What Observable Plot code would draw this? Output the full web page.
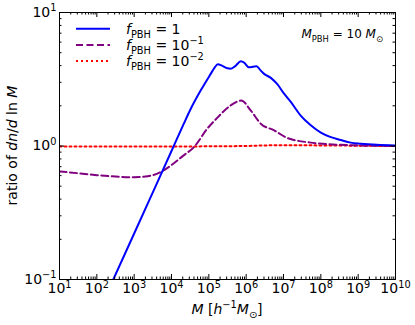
<!DOCTYPE html>
<html><head><meta charset="utf-8">
<script src="https://cdn.jsdelivr.net/npm/d3@7"></script>
<script src="https://cdn.jsdelivr.net/npm/@observablehq/plot@0.6"></script>
<style>body{margin:0;background:#fff} svg{overflow:visible}</style>
</head><body><div id="chart"></div>
<script>
// ---- data (log10 of M in h^-1 Msun, ratio of dn/dlnM) ----
const seriesNames = ["f1", "f01", "f001"];
const blueLogM  = [2.3, 3.0, 3.5, 4.0, 4.33, 4.5, 4.78, 5.05, 5.15, 5.24, 5.35, 5.5, 5.58, 5.7, 5.86, 5.95, 6.07, 6.18, 6.28, 6.38, 6.48, 6.66, 6.84, 7.0, 7.19, 7.46, 7.73, 8.0, 8.25, 8.53, 8.8, 9.07, 9.5, 10.0];
const blueRatio = [0.082, 0.221, 0.45, 0.917, 1.47, 1.86, 2.6, 3.47, 3.85, 4.10, 4.0, 3.82, 3.79, 3.95, 4.32, 4.2, 3.89, 3.92, 3.96, 3.7, 3.47, 3.24, 2.89, 2.5, 2.15, 1.69, 1.43, 1.26, 1.17, 1.11, 1.06, 1.04, 1.02, 1.01];
const purpleLogM  = [1.0, 1.5, 2.0, 2.5, 3.0, 3.3, 3.5, 3.75, 4.0, 4.3, 4.6, 4.96, 5.23, 5.58, 5.87, 6.12, 6.39, 6.75, 7.1, 7.73, 8.53, 9.0, 10.0];
const purpleRatio = [0.645, 0.625, 0.605, 0.59, 0.584, 0.59, 0.605, 0.647, 0.72, 0.84, 0.98, 1.35, 1.63, 2.01, 2.19, 1.85, 1.47, 1.31, 1.15, 1.06, 1.02, 1.01, 1.0];
const redLogM  = [1.0, 4.0, 5.0, 6.0, 6.5, 7.0, 8.0, 9.0, 10.0];
const redRatio = [0.99, 0.99, 0.995, 1.0, 1.01, 1.015, 1.01, 1.005, 1.0];
const xDecades = [1, 2, 3, 4, 5, 6, 7, 8, 9, 10];
const yDecades = [-1, 0, 1];

const toRows = (lm, r) => lm.map((v, i) => ({M: 10 ** v, ratio: r[i]}));
const blue = toRows(blueLogM, blueRatio);
const purple = toRows(purpleLogM, purpleRatio);
const red = toRows(redLogM, redRatio);

const xMajor = xDecades.map(d => 10 ** d);
const yMajor = yDecades.map(d => 10 ** d);
const xMinor = xDecades.slice(0, -1).flatMap(d => d3.range(2, 10).map(k => k * 10 ** d));
const yMinor = yDecades.slice(0, -1).flatMap(d => d3.range(2, 10).map(k => k * 10 ** d));

const W = 415, H = 325, mL = 59, mR = 20, mT = 12, mB = 46;
const innerH = H - mT - mB, innerW = W - mL - mR;
const majL = 5, minL = 2.5;

const chart = Plot.plot({
  width: W, height: H,
  marginLeft: mL, marginRight: mR, marginTop: mT, marginBottom: mB,
  style: {fontFamily: "DejaVu Sans", fontSize: "14px", color: "black", background: "white"},
  x: {type: "log", domain: [10, 1e10]},
  y: {type: "log", domain: [0.1, 10]},
  marks: [
    Plot.line(red, {x: "M", y: "ratio", stroke: "#ff0000", strokeWidth: 2, strokeDasharray: "2,3", curve: "monotone-x", clip: true}),
    Plot.line(purple, {x: "M", y: "ratio", stroke: "#800080", strokeWidth: 2, strokeDasharray: "7,3.5", curve: "monotone-x", clip: true}),
    Plot.line(blue, {x: "M", y: "ratio", stroke: "#0000ff", strokeWidth: 2, curve: "monotone-x", clip: true}),
    // inward ticks (bottom/top/left/right)
    Plot.tickX(xMajor, {x: d => d, insetTop: innerH - majL, stroke: "black"}),
    Plot.tickX(xMajor, {x: d => d, insetBottom: innerH - majL, stroke: "black"}),
    Plot.tickX(xMinor, {x: d => d, insetTop: innerH - minL, stroke: "black"}),
    Plot.tickX(xMinor, {x: d => d, insetBottom: innerH - minL, stroke: "black"}),
    Plot.tickY(yMajor, {y: d => d, insetRight: innerW - majL, stroke: "black"}),
    Plot.tickY(yMajor, {y: d => d, insetLeft: innerW - majL, stroke: "black"}),
    Plot.tickY(yMinor, {y: d => d, insetRight: innerW - minL, stroke: "black"}),
    Plot.tickY(yMinor, {y: d => d, insetLeft: innerW - minL, stroke: "black"}),
    Plot.axisX({ticks: xMajor, tickSize: 0, tickPadding: 4, label: null, tickFormat: d => String(Math.round(Math.log10(d)))}),
    Plot.axisY({ticks: yMajor, tickSize: 0, tickPadding: 3, label: null, tickFormat: d => String(Math.round(Math.log10(d)))}),
    Plot.frame({stroke: "black", strokeWidth: 1})
  ]
});
document.getElementById("chart").appendChild(chart);

const svg = d3.select(chart);
const minus = s => s.replace("-", "\u2212");

// rich text builder
function rich(sel, parts, size = 14) {
  let cur = 0;
  parts.forEach(p => {
    const target = p.sub ? size * 0.3 : p.sup ? -size * 0.42 : 0;
    const ts = sel.append("tspan").text(p.t);
    if (target !== cur) ts.attr("dy", target - cur);
    cur = target;
    if (p.sub || p.sup) ts.attr("font-size", size * 0.7);
    if (p.it) ts.attr("font-style", "italic");
  });
}

// tick labels 10^n
svg.selectAll('g[aria-label="x-axis tick label"] text, g[aria-label="y-axis tick label"] text').each(function() {
  const t = d3.select(this);
  const e = minus(t.text());
  t.text(null);
  rich(t, [{t: "10"}, {t: e, sup: true}]);
});

const g = svg.append("g").attr("font-family", "DejaVu Sans").attr("font-size", 14).attr("fill", "black");

// axis labels
const xl = g.append("text").attr("x", mL + innerW / 2).attr("y", 314).attr("text-anchor", "middle");
rich(xl, [{t: "M", it: true}, {t: " ["}, {t: "h", it: true}, {t: "\u22121", sup: true}, {t: "M", it: true}, {t: "\u2299", sub: true}, {t: "]"}]);
const yl = g.append("text").attr("transform", `translate(17,${mT + innerH / 2}) rotate(-90)`).attr("text-anchor", "middle");
rich(yl, [{t: "ratio of "}, {t: "dn", it: true}, {t: "/"}, {t: "d", it: true}, {t: " ln "}, {t: "M", it: true}]);

// legend
const legend = [
  {color: "#0000ff", dash: null, exp: null},
  {color: "#800080", dash: "7,3.5", exp: "\u22121"},
  {color: "#ff0000", dash: "2,3", exp: "\u22122"}
];
legend.forEach((d, i) => {
  const y = 28.7 + i * 16.2;
  g.append("line").attr("x1", 76).attr("x2", 110).attr("y1", y).attr("y2", y)
    .attr("stroke", d.color).attr("stroke-width", 2).attr("stroke-dasharray", d.dash);
  const t = g.append("text").attr("x", 126).attr("y", y + 5).attr("text-anchor", "start");
  const parts = [{t: "f", it: true}, {t: "PBH", sub: true}, {t: " = "}];
  if (d.exp) parts.push({t: "10"}, {t: d.exp, sup: true}); else parts.push({t: "1"});
  rich(t, parts);
});

// annotation
const an = g.append("text").attr("x", 383).attr("y", 38).attr("text-anchor", "end").attr("font-size", 12);
rich(an, [{t: "M", it: true}, {t: "PBH", sub: true}, {t: " = 10 "}, {t: "M", it: true}, {t: "\u2299", sub: true}], 12);
</script>
</body></html>
